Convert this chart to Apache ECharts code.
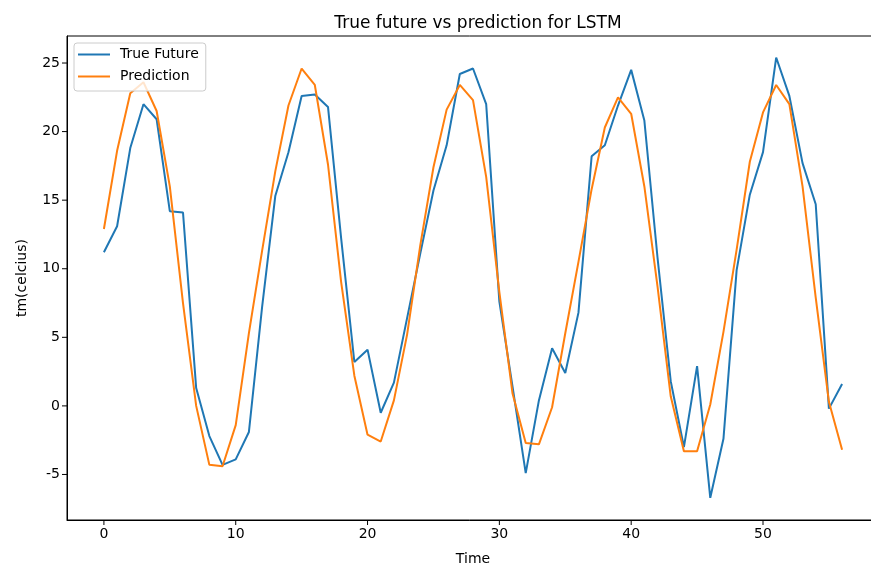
<!DOCTYPE html>
<html>
<head>
<meta charset="utf-8">
<script src="https://cdn.jsdelivr.net/npm/echarts@6/dist/echarts.min.js"></script>
<style>
html, body { margin: 0; padding: 0; background: #fff; }
#chart { width: 871px; height: 566px; }
</style>
</head>
<body>
<div id="chart"></div>
<script>
// time steps 0..56
var steps = [];
for (var s = 0; s <= 56; s++) steps.push(s);

var trueFuture = [11.2, 13.1, 18.8, 22.0, 20.9, 14.2, 14.1, 1.3, -2.2, -4.3,
    -3.9, -1.9, 7.2, 15.3, 18.5, 22.6, 22.7, 21.8, 12.2, 3.2,
    4.1, -0.5, 1.7, 6.4, 11.1, 15.7, 19.0, 24.2, 24.6, 22.0,
    7.6, 1.4, -4.9, 0.4, 4.2, 2.4, 6.8, 18.2, 19.0, 21.9,
    24.5, 20.8, 10.8, 1.8, -3.0, 2.9, -6.7, -2.4, 9.9, 15.4,
    18.5, 25.4, 22.6, 17.7, 14.7, -0.2, 1.6];

var prediction = [12.9, 18.6, 22.8, 23.6, 21.5, 16.0, 7.5, 0.0, -4.3, -4.4,
    -1.4, 5.3, 11.3, 17.1, 21.9, 24.6, 23.4, 17.6, 9.0, 2.2,
    -2.1, -2.6, 0.4, 5.2, 11.7, 17.4, 21.6, 23.4, 22.3, 16.7,
    8.3, 0.9, -2.7, -2.8, -0.1, 5.3, 10.5, 15.8, 20.3, 22.5,
    21.3, 16.0, 8.7, 0.7, -3.3, -3.3, 0.1, 5.4, 11.4, 17.8,
    21.4, 23.4, 22.0, 16.0, 7.9, 0.3, -3.2];

var xTicks = [0, 10, 20, 30, 40, 50];
var yTicks = [-5, 0, 5, 10, 15, 20, 25];

var xMin = -2.8, xMax = 58.8;
var yMin = -8.32, yMax = 26.97;

function pairs(ys) {
    return ys.map(function (y, i) { return [steps[i], y]; });
}

var chart = echarts.init(document.getElementById('chart'));
var font = 'DejaVu Sans';

option = {
    animation: false,
    backgroundColor: '#fff',
    title: {
        text: 'True future vs prediction for LSTM',
        left: 473,
        textAlign: 'center',
        top: 10,
        textStyle: { fontFamily: font, fontSize: 17, fontWeight: 'normal', color: '#000' }
    },
    legend: {
        data: ['True Future', 'Prediction'],
        orient: 'vertical',
        left: 74,
        top: 43,
        icon: 'rect',
        itemWidth: 32,
        itemHeight: 2,
        itemGap: 5,
        padding: [3, 7, 6, 4],
        backgroundColor: 'rgba(255,255,255,0.8)',
        borderColor: '#cccccc',
        borderWidth: 1,
        borderRadius: 3,
        textStyle: { fontFamily: font, fontSize: 14, color: '#000', lineHeight: 17, padding: [0, 0, 0, 5] }
    },
    grid: {
        left: 67,
        top: 36,
        right: -8,
        bottom: 46,
        outerBoundsMode: 'none',
        show: true,
        borderColor: '#000',
        borderWidth: 1
    },
    xAxis: {
        type: 'value',
        min: xMin,
        max: xMax,
        name: 'Time',
        nameLocation: 'middle',
        nameGap: 32,
        nameTextStyle: { fontFamily: font, fontSize: 14, color: '#000' },
        axisLine: { show: true, onZero: false, lineStyle: { color: '#000' } },
        axisTick: { show: false },
        axisLabel: { fontFamily: font, fontSize: 14, color: '#000', margin: 7, customValues: xTicks },
        splitLine: { show: false }
    },
    yAxis: {
        type: 'value',
        min: yMin,
        max: yMax,
        name: 'tm(celcius)',
        nameLocation: 'middle',
        nameRotate: 90,
        nameGap: 38,
        nameTextStyle: { fontFamily: font, fontSize: 14, color: '#000' },
        axisLine: { show: true, onZero: false, lineStyle: { color: '#000' } },
        axisTick: { show: false },
        axisLabel: { fontFamily: font, fontSize: 14, color: '#000', margin: 7, customValues: yTicks },
        splitLine: { show: false }
    },
    series: [
        {
            name: 'True Future',
            type: 'line',
            data: pairs(trueFuture),
            showSymbol: false,
            color: '#1f77b4',
            lineStyle: { width: 2, color: '#1f77b4' }
        },
        {
            name: 'Prediction',
            type: 'line',
            data: pairs(prediction),
            showSymbol: false,
            color: '#ff7f0e',
            lineStyle: { width: 2, color: '#ff7f0e' }
        }
    ]
};

chart.setOption(option);

// outward tick marks, placed through the chart's own scales
var tickMarks = [];
xTicks.forEach(function (v) {
    var p = chart.convertToPixel({ gridIndex: 0 }, [v, yMin]);
    tickMarks.push({
        type: 'line', z: 100,
        shape: { x1: p[0], y1: p[1], x2: p[0], y2: p[1] + 5 },
        style: { stroke: '#000', lineWidth: 1 }
    });
});
yTicks.forEach(function (v) {
    var p = chart.convertToPixel({ gridIndex: 0 }, [xMin, v]);
    tickMarks.push({
        type: 'line', z: 100,
        shape: { x1: p[0], y1: p[1], x2: p[0] - 5, y2: p[1] },
        style: { stroke: '#000', lineWidth: 1 }
    });
});
chart.setOption({ graphic: tickMarks });
</script>
</body>
</html>
